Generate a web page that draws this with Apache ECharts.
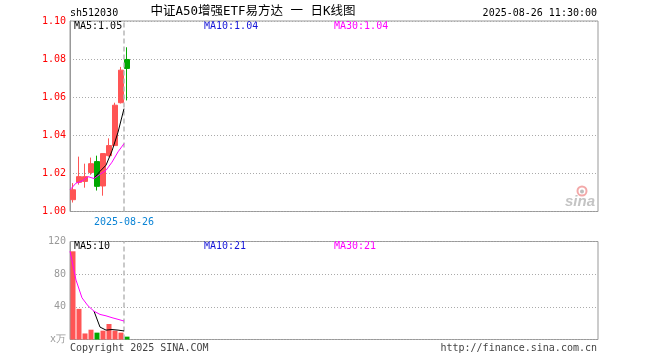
<!DOCTYPE html>
<html><head><meta charset="utf-8">
<script src="https://cdn.jsdelivr.net/npm/echarts@6/dist/echarts.min.js"></script>
<style>html,body{margin:0;padding:0;background:#fff}#c{width:660px;height:360px}</style>
</head><body><div id="c"></div>
<script>
// ---- data ----
const dates = ['2025-08-13','2025-08-14','2025-08-15','2025-08-18','2025-08-19','2025-08-20','2025-08-21','2025-08-22','2025-08-25','2025-08-26'];
const openP  = [1.0062, 1.0153, 1.0158, 1.0205, 1.0262, 1.0134, 1.0293, 1.0346, 1.0571, 1.0798];
const closeP = [1.0114, 1.0183, 1.0183, 1.0251, 1.0132, 1.0304, 1.0346, 1.0558, 1.0742, 1.0751];
const lowP   = [1.0047, 1.0141, 1.0125, 1.0193, 1.0110, 1.0083, 1.0288, 1.0346, 1.0567, 1.0583];
const highP  = [1.0149, 1.0288, 1.0251, 1.0283, 1.0293, 1.0304, 1.0384, 1.0571, 1.0759, 1.0862];
const ma5    = [null, null, null, null, 1.0173, 1.0211, 1.0243, 1.0318, 1.0416, 1.0540];
const ma30   = [1.0114, 1.0149, 1.0160, 1.0183, 1.0173, 1.0195, 1.0216, 1.0259, 1.0313, 1.0356];
const volume = [108, 37.5, 7.4, 12, 8.4, 10.8, 19, 10.8, 8.4, 3.5];
const volMa5 = [null, null, null, null, 34.7, 15.2, 11.5, 12.2, 11.5, 10.5];
const volMa30= [108, 72.8, 51.0, 41.2, 34.7, 30.7, 29.0, 26.7, 24.7, 22.6];
const priceLabels = ['MA5:1.05', 'MA10:1.04', 'MA30:1.04'];
const volLabels = ['MA5:10', 'MA10:21', 'MA30:21'];
const markDate = '2025-08-26';
const SLOTS = 88;

const cats = dates.concat(Array.from({length: SLOTS - dates.length}, (_, i) => 'slot' + (i + 1)));
const MONO = '"DejaVu Sans Mono", monospace';
const UP = '#ff5555', DOWN = '#00a800';

const hiddenX = (gi) => ({gridIndex: gi, type: 'category', data: cats, axisLine: {show: false}, axisTick: {show: false}, axisLabel: {show: false}, splitLine: {show: false}});
const vline = {symbol: ['none', 'none'], silent: true, label: {show: false},
  lineStyle: {color: '#b8b8b8', type: [5, 3], width: 1.5}, data: [{xAxis: markDate}]};
const txt = (text, x, y, color, align, font) => ({type: 'text', silent: true,
  style: {text: text, x: x, y: y, fill: color, textAlign: align || 'left', textVerticalAlign: 'middle', font: font || ('10px ' + MONO)}});

const chart = echarts.init(document.getElementById('c'), null, {renderer: 'canvas'});
chart.setOption({
  animation: false,
  grid: [
    {left: 70, top: 21, width: 528, height: 190.5, show: true, borderColor: '#999', borderWidth: 1},
    {left: 67, top: 21, width: 528, height: 190.5},
    {left: 70, top: 241.5, width: 528, height: 98, show: true, borderColor: '#999', borderWidth: 1},
    {left: 67, top: 241.5, width: 528, height: 98}
  ],
  xAxis: [
    hiddenX(0),
    {gridIndex: 1, type: 'category', data: cats, axisLine: {show: false}, axisTick: {show: false}, splitLine: {show: false},
     axisLabel: {show: true, interval: (i, v) => v === markDate, color: '#0b84d6', fontFamily: MONO, fontSize: 10, margin: 6}},
    hiddenX(2),
    hiddenX(3)
  ],
  yAxis: [
    {gridIndex: 0, type: 'value', min: 1.0, max: 1.10, interval: 0.02,
     axisLine: {show: true, lineStyle: {color: '#999'}}, axisTick: {show: false},
     axisLabel: {color: '#ff0000', fontFamily: MONO, fontSize: 10, margin: 4, formatter: v => v.toFixed(2)},
     splitLine: {show: true, lineStyle: {color: '#aaa', type: [1, 2]}}},
    {gridIndex: 1, type: 'value', min: 1.0, max: 1.10, show: false},
    {gridIndex: 2, type: 'value', min: 0, max: 120, interval: 40,
     axisLine: {show: true, lineStyle: {color: '#999'}}, axisTick: {show: false},
     axisLabel: {color: '#999', fontFamily: MONO, fontSize: 10, margin: 4, formatter: v => v === 0 ? 'x万' : String(v)},
     splitLine: {show: true, lineStyle: {color: '#aaa', type: [1, 2]}}},
    {gridIndex: 3, type: 'value', min: 0, max: 120, show: false}
  ],
  series: [
    {type: 'candlestick', xAxisIndex: 0, yAxisIndex: 0, barWidth: 5,
     itemStyle: {color: UP, color0: DOWN, borderColor: UP, borderColor0: DOWN, borderWidth: 1},
     data: dates.map((d, i) => [openP[i], closeP[i], lowP[i], highP[i]])},
    {type: 'line', xAxisIndex: 1, yAxisIndex: 1, data: ma5, symbol: 'none', lineStyle: {color: '#000', width: 1}, z: 5, markLine: vline},
    {type: 'line', xAxisIndex: 1, yAxisIndex: 1, data: ma30, symbol: 'none', lineStyle: {color: '#ff00ff', width: 1}, z: 5},
    {type: 'bar', xAxisIndex: 2, yAxisIndex: 2, barWidth: 5,
     data: volume.map((v, i) => ({value: v, itemStyle: {color: closeP[i] >= openP[i] ? UP : DOWN}}))},
    {type: 'line', xAxisIndex: 3, yAxisIndex: 3, data: volMa5, symbol: 'none', lineStyle: {color: '#000', width: 1}, z: 5, markLine: vline},
    {type: 'line', xAxisIndex: 3, yAxisIndex: 3, data: volMa30, symbol: 'none', lineStyle: {color: '#ff00ff', width: 1}, z: 5}
  ],
  graphic: [
    txt('sh512030', 70, 13, '#000'),
    txt('中证A50增强ETF易方达 一 日K线图', 253, 12, '#000', 'center', '12.5px "DejaVu Sans Mono", "Noto Sans CJK SC"'),
    txt('2025-08-26 11:30:00', 597, 13, '#000', 'right'),
    txt(priceLabels[0], 74, 26.5, '#000'),
    txt(priceLabels[1], 204, 26.5, '#1515d8'),
    txt(priceLabels[2], 334, 26.5, '#ff00ff'),
    txt(volLabels[0], 74, 246, '#000'),
    txt(volLabels[1], 204, 246, '#1515d8'),
    txt(volLabels[2], 334, 246, '#ff00ff'),
    txt('Copyright 2025 SINA.COM', 70, 348.5, '#444'),
    txt('http://finance.sina.com.cn', 597, 348.5, '#444', 'right'),
    {type: 'circle', silent: true, shape: {cx: 582, cy: 191, r: 4.5}, style: {fill: 'none', stroke: '#f3a9a9', lineWidth: 2}},
    {type: 'circle', silent: true, shape: {cx: 582, cy: 191.5, r: 2}, style: {fill: '#bdbdbd'}},
    {type: 'text', silent: true, style: {text: 'sina', x: 565, y: 202, fill: '#c4c4c4', textAlign: 'left', textVerticalAlign: 'middle', font: 'italic bold 15px "Liberation Sans", sans-serif'}}
  ]
});
</script></body></html>
